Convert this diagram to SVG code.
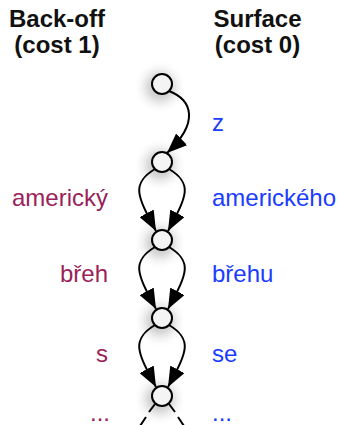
<svg xmlns="http://www.w3.org/2000/svg" width="341" height="425" viewBox="0 0 341 425">
  <style>
    .head { font-family: "Liberation Sans", Arial, sans-serif; font-size: 24px; font-weight: bold; fill: #111; text-anchor: middle; }
    .lab { font-family: "Liberation Sans", Arial, sans-serif; font-size: 24px; }
    .back { fill: #9a1f5a; text-anchor: end; }
    .surf { fill: #1a3cff; text-anchor: start; }
    .node { fill: #f4f4f4; stroke: #000; stroke-width: 2; }
    .glow { fill: url(#halo); stroke: none; }
    .edge { fill: none; stroke: #000; stroke-width: 2; marker-end: url(#arrow); }
    .stub { fill: none; stroke: #000; stroke-width: 2; }
  </style>
  <defs>
    <radialGradient id="halo">
      <stop offset="0" stop-color="#aaaaaa" stop-opacity="0.9"/>
      <stop offset="0.45" stop-color="#c8c8c8" stop-opacity="0.65"/>
      <stop offset="1" stop-color="#ffffff" stop-opacity="0"/>
    </radialGradient>
    <marker id="arrow" markerUnits="userSpaceOnUse" viewBox="0 0 20 16" refX="20" refY="8" markerWidth="20" markerHeight="16" orient="auto">
      <path d="M0,0 L20,8 L0,16 z" fill="#000"/>
    </marker>
  </defs>

  <!-- column headings -->
  <g id="heading-backoff">
    <text class="head" x="57" y="27">Back-off</text>
    <text class="head" x="57" y="53">(cost 1)</text>
  </g>
  <g id="heading-surface">
    <text class="head" x="257.5" y="27">Surface</text>
    <text class="head" x="257.5" y="53">(cost 0)</text>
  </g>

  <!-- soft halos behind the states -->
  <g id="halos">
    <circle class="glow" cx="160" cy="87" r="27"/>
    <circle class="glow" cx="160" cy="165" r="27"/>
    <circle class="glow" cx="160" cy="243" r="27"/>
    <circle class="glow" cx="160" cy="321" r="27"/>
    <circle class="glow" cx="160" cy="399" r="27"/>
  </g>

  <!-- connectors -->
  <g id="connectors">
    <path class="edge" d="M169,91 C192,100 200,122 167,153"/>
    <!-- s1 -> s2 -->
    <path class="edge" d="M155,169 C130,184 138,197 156,231"/>
    <path class="edge" d="M169,169 C194,184 186,197 168,231"/>
    <!-- s2 -> s3 -->
    <path class="edge" d="M155,247 C130,262 138,275 156,309"/>
    <path class="edge" d="M169,247 C194,262 186,275 168,309"/>
    <!-- s3 -> s4 -->
    <path class="edge" d="M155,325 C130,340 138,353 156,387"/>
    <path class="edge" d="M169,325 C194,340 186,353 168,387"/>
    <!-- continuation below the last state -->
    <path class="stub" d="M155,404 L149,412 M146,417 L140,426"/>
    <path class="stub" d="M169,404 L175,412 M178,417 L184,426"/>
  </g>

  <!-- states -->
  <g id="s0"><circle class="node" cx="162" cy="84" r="10"/></g>
  <g id="s1"><circle class="node" cx="162" cy="162" r="10"/></g>
  <g id="s2"><circle class="node" cx="162" cy="240" r="10"/></g>
  <g id="s3"><circle class="node" cx="162" cy="318" r="10"/></g>
  <g id="s4"><circle class="node" cx="162" cy="396" r="10"/></g>

  <!-- edge labels -->
  <g id="labels-backoff">
    <text class="lab back" x="108" y="206">americký</text>
    <text class="lab back" x="108" y="282">břeh</text>
    <text class="lab back" x="108" y="362">s</text>
    <text class="lab back" x="110" y="421">...</text>
  </g>
  <g id="labels-surface">
    <text class="lab surf" x="212" y="131">z</text>
    <text class="lab surf" x="212" y="206">amerického</text>
    <text class="lab surf" x="212" y="282">břehu</text>
    <text class="lab surf" x="212" y="362">se</text>
    <text class="lab surf" x="212" y="421">...</text>
  </g>
</svg>
